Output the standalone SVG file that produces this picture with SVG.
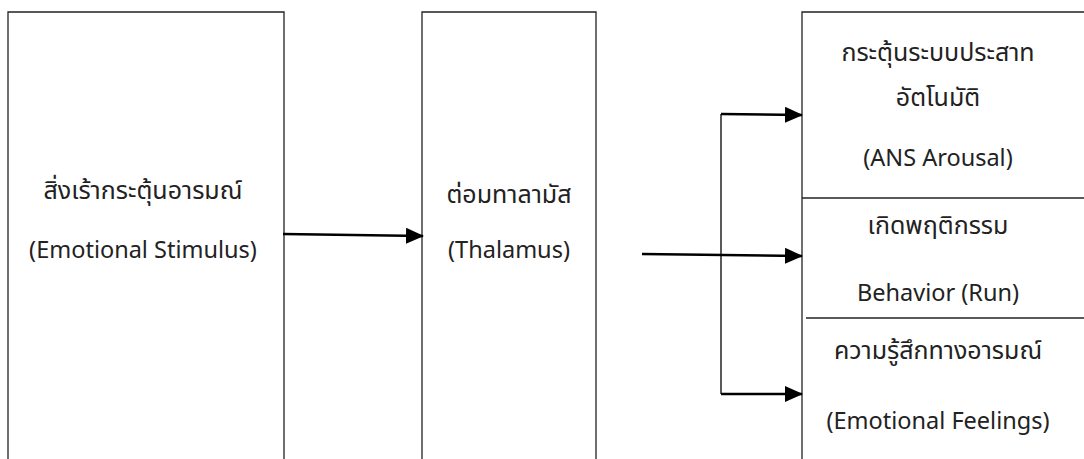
<svg xmlns="http://www.w3.org/2000/svg" width="1084" height="459" viewBox="0 0 1084 459">
  <style>
    .box { fill: #ffffff; stroke: #222222; stroke-width: 1.3; }
    .div { stroke: #222222; stroke-width: 1.3; }
    .lbl { font-family: "Noto Sans", "Noto Sans Thai", "DejaVu Sans", sans-serif; font-size: 23.5px; fill: #222222; text-anchor: middle; }
    .th { font-size: 25px; }
    .wire { stroke: #000000; stroke-width: 2.5; fill: none; }
    .thin { stroke: #000000; stroke-width: 1.3; fill: none; }
  </style>
  <defs>
    <marker id="arrow" markerUnits="userSpaceOnUse" markerWidth="18" markerHeight="16" refX="17" refY="8" orient="auto">
      <path d="M0,0 L18,8 L0,16 Z" fill="#000000"/>
    </marker>
  </defs>
  <rect width="1084" height="459" fill="#ffffff"/>

  <g id="stimulus">
    <path class="box" d="M8,470 L8,12 L284,12 L284,470"/>
    <text class="lbl th" x="143" y="199">สิ่งเร้ากระตุ้นอารมณ์</text>
    <text class="lbl" x="143" y="258">(Emotional Stimulus)</text>
  </g>

  <g id="thalamus">
    <path class="box" d="M422,470 L422,12 L596,12 L596,470"/>
    <text class="lbl th" x="509" y="203">ต่อมทาลามัส</text>
    <text class="lbl" x="509" y="258">(Thalamus)</text>
  </g>

  <g id="responses">
    <path class="box" d="M802,470 L802,12 L1090,12"/>
    <line class="div" x1="802" y1="198" x2="1090" y2="198"/>
    <line class="div" x1="806" y1="318" x2="1090" y2="318"/>
    <text class="lbl th" x="938" y="61">กระตุ้นระบบประสาท</text>
    <text class="lbl th" x="938" y="106">อัตโนมัติ</text>
    <text class="lbl" x="938" y="166">(ANS Arousal)</text>
    <text class="lbl th" x="938" y="234">เกิดพฤติกรรม</text>
    <text class="lbl" x="938" y="301">Behavior (Run)</text>
    <text class="lbl th" x="938" y="359">ความรู้สึกทางอารมณ์</text>
    <text class="lbl" x="938" y="429">(Emotional Feelings)</text>
  </g>

  <g id="connectors">
    <line class="wire" x1="283" y1="234" x2="423" y2="236" marker-end="url(#arrow)"/>
    <line class="wire" x1="642" y1="254" x2="802" y2="256" marker-end="url(#arrow)"/>
    <line class="thin" x1="721" y1="114" x2="721" y2="394"/>
    <line class="wire" x1="721" y1="114" x2="802" y2="115" marker-end="url(#arrow)"/>
    <line class="wire" x1="721" y1="394" x2="802" y2="394" marker-end="url(#arrow)"/>
  </g>
</svg>
